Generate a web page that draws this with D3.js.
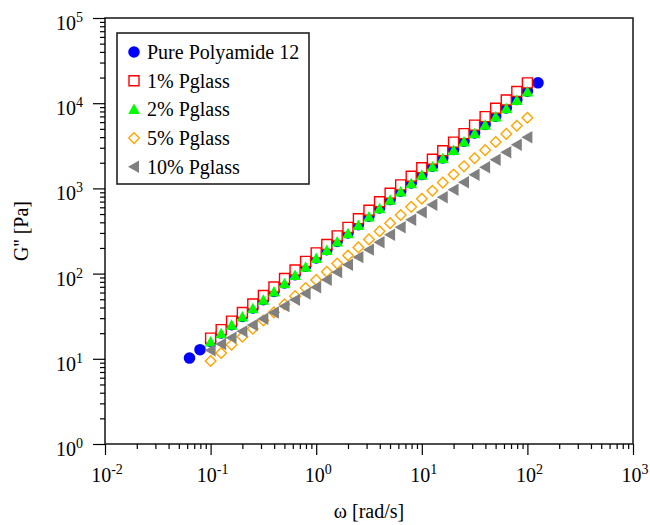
<!DOCTYPE html>
<html>
<head>
<meta charset="utf-8">
<script src="https://cdn.jsdelivr.net/npm/d3@7"></script>
<style>
  body { margin: 0; background: #fff; }
  svg { font-family: "Liberation Serif", "Times New Roman", serif; }
</style>
</head>
<body>
<svg id="chart" width="650" height="525"></svg>
<script>
// frequency sweep, rad/s
const omega = [0.1, 0.126, 0.158, 0.2, 0.251, 0.316, 0.398, 0.501, 0.631, 0.794,
  1, 1.26, 1.58, 2, 2.51, 3.16, 3.98, 5.01, 6.31, 7.94,
  10, 12.6, 15.8, 20, 25.1, 31.6, 39.8, 50.1, 63.1, 79.4, 100];
const omegaPure = [0.0631, 0.0794].concat(omega, [126]);

// G'' [Pa]
const pure = [10.2, 12.8, 16.0, 20.1, 25.2, 31.5, 39.5, 49.4, 61.9, 77.6, 97.3, 122,
  153, 191, 239, 300, 376, 471, 590, 739, 926, 1160, 1454, 1821, 2281, 2858,
  3581, 4487, 5623, 7035, 8810, 11040, 13840, 17340];
const pg1 = [17.5, 22.0, 27.7, 34.9, 44.0, 55.3, 69.7, 87.7, 110, 139, 175, 220, 277,
  349, 440, 553, 697, 877, 1100, 1390, 1750, 2200, 2770, 3490, 4400, 5530, 6950,
  8720, 10900, 13700, 17300];
const pg2 = [15.7, 19.7, 24.7, 30.9, 38.7, 48.5, 60.8, 76.2, 95.3, 119, 150, 187, 235,
  294, 368, 461, 578, 724, 906, 1135, 1422, 1782, 2233, 2793, 3500, 4385, 5495,
  6887, 8610, 10790, 13520];
const pg5 = [9.42, 11.7, 14.6, 18.2, 22.6, 28.2, 35.1, 43.7, 54.4, 67.7, 84.3, 105,
  131, 163, 203, 252, 314, 391, 487, 607, 755, 940, 1170, 1458, 1815, 2259, 2812,
  3500, 4363, 5433, 6761];
const pg10 = [12.6, 14.9, 17.7, 21.0, 24.9, 29.5, 35.0, 41.5, 49.2, 58.3, 69.2, 84.7,
  104, 127, 156, 191, 233, 286, 350, 429, 525, 643, 787, 964, 1180, 1445, 1770,
  2168, 2655, 3251, 3981];

const seriesNames = ['Pure Polyamide 12', '1% Pglass', '2% Pglass', '5% Pglass', '10% Pglass'];
const xTickExp = [-2, -1, 0, 1, 2, 3];
const yTickExp = [0, 1, 2, 3, 4, 5];

const margin = { top: 18, right: 17, bottom: 81, left: 105 };
const width = 650, height = 525;
const innerWidth = width - margin.left - margin.right;
const innerHeight = height - margin.top - margin.bottom;

const svg = d3.select('#chart');
const g = svg.append('g').attr('transform', `translate(${margin.left}, ${margin.top})`);

const x = d3.scaleLog().domain([1e-2, 1e3]).range([0, innerWidth]);
const y = d3.scaleLog().domain([1, 1e5]).range([innerHeight, 0]);

// minor ticks 2..9 per decade
const minors = (lo, hi) => {
  const out = [];
  for (let e = lo; e < hi; e++) for (let m = 2; m <= 9; m++) out.push(m * Math.pow(10, e));
  return out;
};

// frame
g.append('rect')
  .attr('width', innerWidth).attr('height', innerHeight)
  .attr('fill', 'none').attr('stroke', '#222').attr('stroke-width', 1.6);

const styleAxis = sel => {
  sel.select('.domain').remove();
  sel.selectAll('text').remove();
  sel.selectAll('line').attr('stroke', '#000').attr('stroke-width', 1.2);
};

g.append('g')
  .attr('transform', `translate(0, ${innerHeight})`)
  .call(d3.axisBottom(x).tickValues(minors(-2, 3)).tickSize(5))
  .call(styleAxis);
g.append('g')
  .attr('transform', `translate(0, ${innerHeight})`)
  .call(d3.axisBottom(x).tickValues(xTickExp.map(e => Math.pow(10, e))).tickSize(11))
  .call(styleAxis);

g.append('g')
  .call(d3.axisLeft(y).tickValues(minors(0, 5)).tickSize(5))
  .call(styleAxis);
g.append('g')
  .call(d3.axisLeft(y).tickValues(yTickExp.map(e => Math.pow(10, e))).tickSize(12))
  .call(styleAxis);

// tick labels as 10^n
const xLab = g.selectAll('.x-lab').data(xTickExp).join('text')
  .attr('class', 'x-lab')
  .attr('x', d => x(Math.pow(10, d)) + 2)
  .attr('y', innerHeight + 38)
  .attr('text-anchor', 'middle')
  .style('font-size', '20px');
xLab.append('tspan').text('10');
xLab.append('tspan').attr('dy', -8).style('font-size', '14px').text(d => d);

const yLab = g.selectAll('.y-lab').data(yTickExp).join('text')
  .attr('class', 'y-lab')
  .attr('x', -22)
  .attr('y', d => y(Math.pow(10, d)) + 12)
  .attr('text-anchor', 'end')
  .style('font-size', '20px');
yLab.append('tspan').text('10');
yLab.append('tspan').attr('dy', -8).style('font-size', '14px').text(d => d);

// axis titles
svg.append('text')
  .attr('x', margin.left + innerWidth / 2)
  .attr('y', 518)
  .attr('text-anchor', 'middle')
  .style('font-size', '20px')
  .text('ω [rad/s]');
svg.append('text')
  .attr('transform', `translate(28, ${margin.top + innerHeight / 2}) rotate(-90)`)
  .attr('text-anchor', 'middle')
  .style('font-size', '20px')
  .text("G'' [Pa]");

// markers
const markers = [
  { d: d3.symbol(d3.symbolCircle, 105)(), fill: '#0000ff', stroke: 'none' },
  { d: 'M-5,-5H5V5H-5Z', fill: '#fff', stroke: '#ff0000' },
  { d: 'M0,-6L5.8,4.5H-5.8Z', fill: '#00ff00', stroke: 'none' },
  { d: 'M0,-5.3L5.3,0L0,5.3L-5.3,0Z', fill: 'none', stroke: '#ffa500' },
  { d: 'M-6,0L5,-6.2V6.2Z', fill: '#808080', stroke: 'none' }
];

const lineData = [
  { name: seriesNames[0], xs: omegaPure, ys: pure },
  { name: seriesNames[1], xs: omega, ys: pg1 },
  { name: seriesNames[2], xs: omega, ys: pg2 },
  { name: seriesNames[3], xs: omega, ys: pg5 },
  { name: seriesNames[4], xs: omega, ys: pg10 }
];

lineData.forEach((s, i) => {
  const m = markers[i];
  g.append('g').selectAll('path')
    .data(s.xs.map((w, k) => ({ w, v: s.ys[k] })))
    .join('path')
    .attr('transform', d => `translate(${x(d.w)}, ${y(d.v)})`)
    .attr('d', m.d)
    .attr('fill', m.fill)
    .attr('stroke', m.stroke)
    .attr('stroke-width', 1.4);
});

// legend
const legend = svg.append('g').attr('transform', 'translate(117, 33)');
legend.append('rect')
  .attr('width', 192).attr('height', 151)
  .attr('fill', '#fff').attr('stroke', '#222').attr('stroke-width', 1.6);
const items = legend.selectAll('.legend-item')
  .data(lineData)
  .join('g')
  .attr('class', 'legend-item')
  .attr('transform', (d, i) => `translate(17, ${19 + i * 28.7})`);
items.append('path')
  .attr('d', (d, i) => markers[i].d)
  .attr('fill', (d, i) => markers[i].fill)
  .attr('stroke', (d, i) => markers[i].stroke)
  .attr('stroke-width', 1.4);
items.append('text')
  .attr('x', 13)
  .attr('y', 7)
  .style('font-size', '20px')
  .text(d => d.name);
</script>
</body>
</html>
